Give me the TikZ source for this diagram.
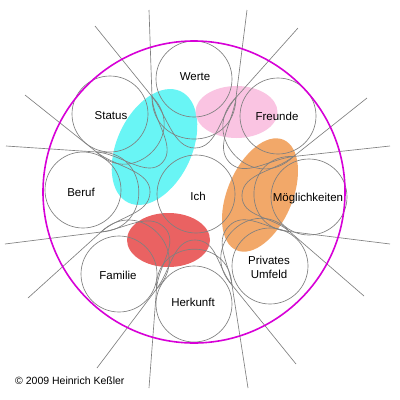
\documentclass[tikz,border=0pt]{standalone}
\usepackage{fontspec}
\setmainfont{Liberation Sans}
\usetikzlibrary{calc}
\definecolor{mag}{RGB}{215,0,215}
\definecolor{cyanfill}{RGB}{105,245,245}
\definecolor{pinkfill}{RGB}{250,196,226}
\definecolor{orangefill}{RGB}{242,168,105}
\definecolor{redfill}{RGB}{234,98,98}
\definecolor{linegray}{RGB}{128,128,128}
\newcommand\deepcurve[5]{%
  \draw[gl] (#1) -- (#2) .. controls ($(#2)!-24pt!(#1)$) and ($(#3)!22pt!-90:(C)$) .. (#3)
    .. controls ($(#3)!22pt!90:(C)$) and ($(#4)!-24pt!(#5)$) .. (#4) -- (#5);}
\newcommand\wraparc[2]{%
  \draw[gl] (#1) .. controls ($(#1)!0.667!-90:(#2)$) and ($(#2)!0.667!90:(#1)$) .. (#2);}
\begin{document}
\begin{tikzpicture}[x=1pt,y=-1pt,
  gl/.style={draw=linegray, line width=0.65pt},
  ring/.style={draw=linegray, line width=0.65pt},
  lbl/.style={font=\fontsize{11.5}{14}\selectfont, inner sep=0pt, align=center, text=black}]
\useasboundingbox (0,0) rectangle (400,400);
\fill[white] (0,0) rectangle (400,400);

% centres
\coordinate (C) at (196,194);
\coordinate (W) at (194,79);
\coordinate (F) at (278,116);
\coordinate (M) at (309,197);
\coordinate (P) at (270,266);
\coordinate (H) at (194,304);
\coordinate (A) at (119,274);
\coordinate (B) at (83,190);
\coordinate (S) at (110,114);

% coloured ellipses
\fill[cyanfill, rotate around={65:(154.5,147)}] (154.5,147) ellipse [x radius=61.5pt, y radius=37.5pt];
\fill[pinkfill] (236.5,112) ellipse [x radius=41pt, y radius=26pt];
\fill[orangefill, rotate around={67:(260,195)}] (260,195) ellipse [x radius=60pt, y radius=32.5pt];
\fill[redfill] (168.5,240) ellipse [x radius=41.5pt, y radius=27pt];

% kiss points
\coordinate (kSW) at ($(S)!0.5!(W)$);
\coordinate (kWF) at ($(W)!0.5!(F)$);
\coordinate (kFM) at ($(F)!0.5!(M)$);
\coordinate (kMP) at ($(M)!0.5!(P)$);
\coordinate (kPH) at ($(P)!0.5!(H)$);
\coordinate (kHA) at ($(H)!0.5!(A)$);
\coordinate (kAB) at ($(A)!0.5!(B)$);
\coordinate (kBS) at ($(B)!0.5!(S)$);

% inner turning points
\coordinate (mW) at ($(C)!46pt!(W)$);
\coordinate (mF) at ($(C)!46pt!(F)$);
\coordinate (mM) at ($(C)!46pt!(M)$);
\coordinate (mP) at ($(C)!46pt!(P)$);
\coordinate (mH) at ($(C)!46pt!(H)$);
\coordinate (mA) at ($(C)!46pt!(A)$);
\coordinate (mB) at ($(C)!46pt!(B)$);
\coordinate (mS) at ($(C)!46pt!(S)$);

% outer line ends
\coordinate (oW1) at (95,26);
\coordinate (oW2) at (298,28);
\coordinate (oF1) at (247,10);
\coordinate (oF2) at (390,146);
\coordinate (oM1) at (367,98);
\coordinate (oM2) at (364,296);
\coordinate (oP1) at (390,244);
\coordinate (oP2) at (248,388);
\coordinate (oH1) at (296,364);
\coordinate (oH2) at (97,368);
\coordinate (oA1) at (149,388);
\coordinate (oA2) at (5,244);
\coordinate (oB1) at (28,298);
\coordinate (oB2) at (25,95);
\coordinate (oS1) at (6,146);
\coordinate (oS2) at (149,10);

% deep curves
\deepcurve{oW1}{kSW}{mW}{kWF}{oW2}
\deepcurve{oF1}{kWF}{mF}{kFM}{oF2}
\deepcurve{oM1}{kFM}{mM}{kMP}{oM2}
\deepcurve{oP1}{kMP}{mP}{kPH}{oP2}
\deepcurve{oH1}{kPH}{mH}{kHA}{oH2}
\deepcurve{oA1}{kHA}{mA}{kAB}{oA2}
\deepcurve{oB1}{kAB}{mB}{kBS}{oB2}
\deepcurve{oS1}{kBS}{mS}{kSW}{oS2}

% wrap arcs
\wraparc{kSW}{kWF}
\wraparc{kWF}{kFM}
\wraparc{kFM}{kMP}
\wraparc{kMP}{kPH}
\wraparc{kPH}{kHA}
\wraparc{kHA}{kAB}
\wraparc{kAB}{kBS}
\wraparc{kBS}{kSW}

% circles
\draw[ring] (C) circle[radius=39pt];
\foreach \c in {W,F,M,P,H,A,B,S} \draw[ring] (\c) circle[radius=38pt];

% outer circle
\draw[mag, line width=1.6pt] (194,192) circle[radius=151pt];

% labels
\node[lbl] (tW) at (195,77) {Werte};
\node[lbl] (tF) at (277,116) {Freunde};
\node[lbl] (tM) at (308,199) {Möglichkeiten};
\node[lbl] (tP) at (269,267) {Privates\\Umfeld};
\node[lbl] (tH) at (193,302) {Herkunft};
\node[lbl] (tA) at (118,275) {Familie};
\node[lbl] (tB) at (81,192) {Beruf};
\node[lbl] (tS) at (111,116) {Status};
\node[lbl] (tI) at (198,196) {Ich};
\node[anchor=west, inner sep=0pt, font=\fontsize{10.5}{12}\selectfont] (copy) at (15,381) {© 2009 Heinrich Keßler};
\end{tikzpicture}
\end{document}
